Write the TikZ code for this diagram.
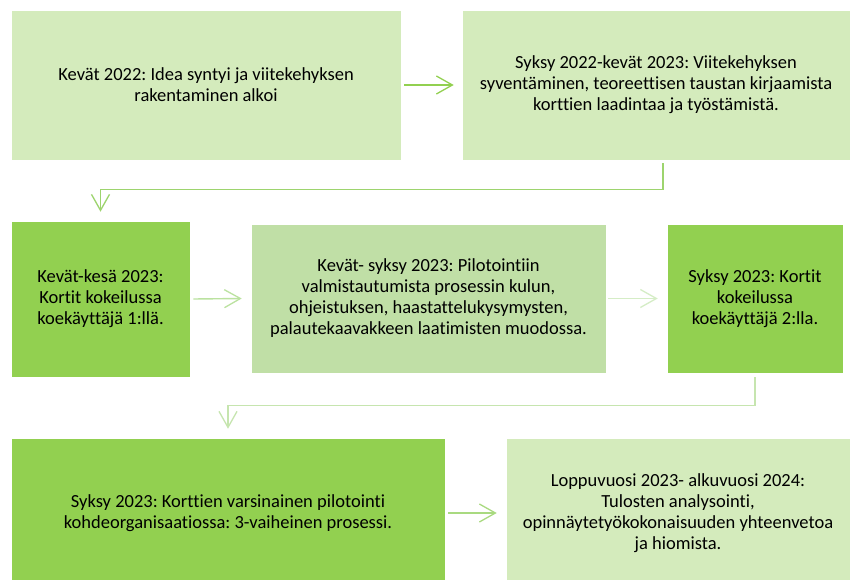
\documentclass[tikz,border=0pt]{standalone}
\usepackage{fontspec}
\setmainfont{Carlito}[Ligatures={NoCommon,NoRare}]
\frenchspacing
\usetikzlibrary{arrows.meta,calc}
\definecolor{lightg}{HTML}{D4EBBC}
\definecolor{midg}{HTML}{C0DFA6}
\definecolor{strongg}{HTML}{92D050}
\definecolor{arA}{HTML}{92D050}
\definecolor{arB}{HTML}{9DD46E}
\definecolor{arC}{HTML}{BBE2A0}
\definecolor{arD}{HTML}{D5EDC6}
\definecolor{arE}{HTML}{A9DA80}
\definecolor{arF}{HTML}{C6E5AF}
\tikzset{
  box/.style={draw=white,line width=0.6pt,align=center,inner sep=0pt,
    font=\fontsize{18.5}{21}\selectfont\frenchspacing,text=black},
  conn/.style={line width=1.4pt,-{Straight Barb[length=16pt,width=18pt,line width=1.3pt]}},
}
\begin{document}
\begin{tikzpicture}[x=1pt,y=-1pt]
\useasboundingbox[fill=white] (0,0) rectangle (850,580);
\node[box,fill=lightg,minimum width=390,minimum height=150] (b1) at (206,85)
  {Kevät 2022: Idea syntyi ja viitekehyksen\\rakentaminen alkoi};
\node[box,fill=lightg,minimum width=388,minimum height=150] (b2) at (656,85)
  {Syksy 2022-kevät 2023: Viitekehyksen\\syventäminen, teoreettisen taustan kirjaamista\\korttien laadintaa ja työstämistä.};
\node[box,fill=strongg,minimum width=179,minimum height=156] (b3) at (100.5,299)
  {Kevät-kesä 2023:\\Kortit kokeilussa\\koekäyttäjä 1:llä.};
\node[box,fill=midg,minimum width=355,minimum height=149] (b4) at (428.5,298.5)
  {Kevät- syksy 2023: Pilotointiin\\valmistautumista prosessin kulun,\\ohjeistuksen, haastattelukysymysten,\\palautekaavakkeen laatimisten muodossa.};
\node[box,fill=strongg,minimum width=176,minimum height=149] (b5) at (755,298.5)
  {Syksy 2023: Kortit\\kokeilussa\\koekäyttäjä 2:lla.};
\node[box,fill=strongg,minimum width=434,minimum height=150] (b6) at (228,513)
  {Syksy 2023: Korttien varsinainen pilotointi\\kohdeorganisaatiossa: 3-vaiheinen prosessi.};
\node[box,fill=lightg,minimum width=344,minimum height=150] (b7) at (678,513)
  {Loppuvuosi 2023- alkuvuosi 2024:\\Tulosten analysointi,\\opinnäytetyökokonaisuuden yhteenvetoa\\ja hiomista.};
\draw[conn,arA] ([xshift=3pt]b1.east) -- ([xshift=-8pt]b2.west);
\draw[conn,arB] ([xshift=7pt,yshift=-3pt]b2.south) |- ([yshift=31pt]b3.north) -- ([yshift=9pt]b3.north);
\draw[conn,arC] ([xshift=3pt]b3.east) -- ([xshift=-9pt]b4.west);
\draw[conn,arD] ([xshift=2pt]b4.east) -- ([xshift=-9pt]b5.west);
\draw[conn,arF] ([yshift=-4pt]b5.south) |- ([yshift=32pt]b6.north) -- ([yshift=9pt]b6.north);
\draw[conn,arE] ([xshift=3pt]b6.east) -- ([xshift=-9pt]b7.west);
\end{tikzpicture}
\end{document}
